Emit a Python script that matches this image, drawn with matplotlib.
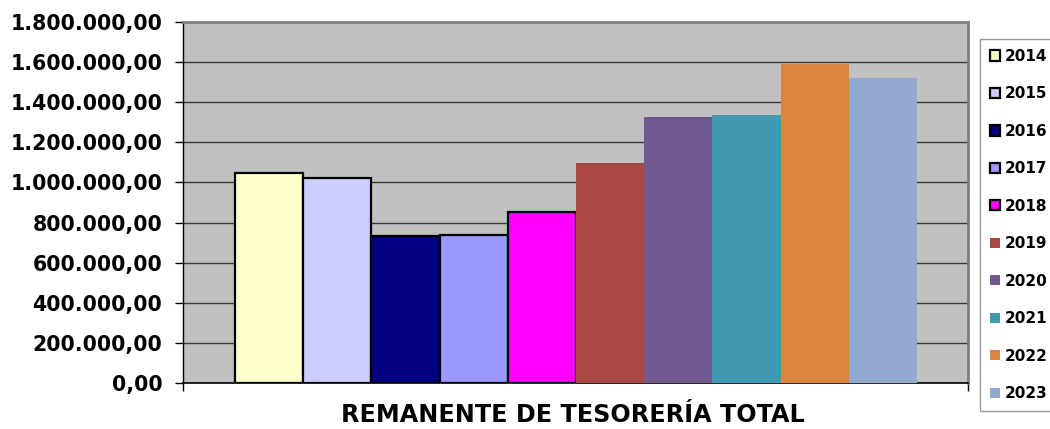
import matplotlib
matplotlib.use("Agg")
import matplotlib.pyplot as plt
from matplotlib.ticker import FixedLocator, FuncFormatter

years = ["2014", "2015", "2016", "2017", "2018", "2019", "2020", "2021", "2022", "2023"]
values = [1045000, 1022000, 731000, 738000, 851000, 1095000, 1326000, 1336000, 1590000, 1523000]
colors = ["#FFFFCC", "#CCCCFF", "#000080", "#9999FF", "#FF00FF",
          "#AA4643", "#71588F", "#4198AF", "#DB843D", "#93A9CF"]
edged = [True, True, True, True, True, False, False, False, False, False]
yticks = [0, 200000, 400000, 600000, 800000, 1000000, 1200000, 1400000, 1600000, 1800000]
xlabel = "REMANENTE DE TESORERÍA TOTAL"

plt.rcParams['font.family'] = ['DejaVu Sans']

fig = plt.figure(figsize=(10.5, 4.29), dpi=100)
ax = fig.add_axes([183/1050, 46/429, 785/1050, 361/429])
ax.set_facecolor("#C0C0C0")

for i, (y, v, c, e) in enumerate(zip(years, values, colors, edged)):
    ax.bar(i, v, width=1.0, color=c, edgecolor="black" if e else c,
           linewidth=1.6 if e else 0, label=y, zorder=3)

ax.set_xlim(-0.5 - 52/68.2, 9.5 + 51/68.2)
ax.set_ylim(0, 1800000)
ax.yaxis.set_major_locator(FixedLocator(yticks))

def fmt(v, pos):
    s = f"{int(v):,}".replace(",", ".")
    return s + ",00"
ax.yaxis.set_major_formatter(FuncFormatter(fmt))
ax.grid(axis="y", color="#3a3a3a", linewidth=1.0, zorder=1)
ax.set_xticks(ax.get_xlim())
ax.set_xticklabels([])
ax.tick_params(axis="x", length=6, width=1, color="black")
ax.tick_params(axis="y", length=6, width=1, pad=9, labelsize=14.8, color="black")
for lab in ax.get_yticklabels():
    lab.set_fontweight("bold")

for s in ["top", "right"]:
    ax.spines[s].set_color("#808080")
    ax.spines[s].set_linewidth(2)
ax.spines["left"].set_color("black")
ax.spines["bottom"].set_color("black")
ax.spines["left"].set_linewidth(1)
ax.spines["bottom"].set_linewidth(1.2)

fig.text(572.5/1050, 1 - 415/429, xlabel, ha="center", va="center",
         fontsize=17.2, fontweight="bold")

leg = fig.legend(loc="upper left", bbox_to_anchor=(980/1050, 1 - 39/429),
                 fontsize=11, frameon=True, fancybox=False, edgecolor="#808080",
                 handlelength=0.65, handleheight=0.65, handletextpad=0.3,
                 labelspacing=1.47, borderpad=0.65, borderaxespad=0)
leg.get_frame().set_linewidth(1)
for t in leg.get_texts():
    t.set_fontweight("bold")

fig.savefig("out.png", dpi=100)
